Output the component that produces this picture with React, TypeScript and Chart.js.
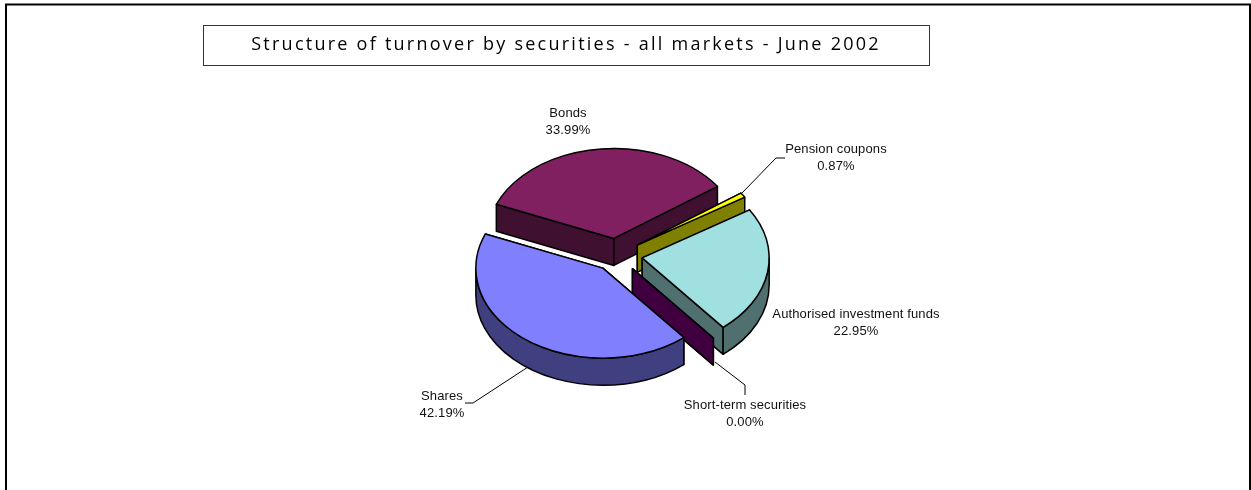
import React, { useEffect, useRef } from "react";
import { Chart, registerables } from "chart.js";

Chart.register(...registerables);

const categories = ["Bonds", "Pension coupons", "Authorised investment funds", "Short-term securities", "Shares"];
const shareValues = [33.99, 0.87, 22.95, 0.0, 42.19];
const topColors = ["#802060", "#FFFF00", "#A0E0E0", "#800080", "#8080FF"];
const sideColors = ["#401030", "#808000", "#507070", "#400040", "#404080"];
const titleText = "Structure of turnover by securities - all markets - June 2002";

const W = 1251;
const H = 490;
const TILT = 0.709;
const DEPTH = 27;
const explodeBy = [23.5, 25, 26, 25, 23];

// label centre x, first line centre y
const labelSpots: [number, number][] = [
  [568, 113],
  [836, 149],
  [856, 314],
  [745, 405],
  [442, 396],
];
const leaders: ([number, number][] | null)[] = [
  null,
  [[742, 193], [776, 158], [785, 158]],
  null,
  [[715, 362], [745, 385], [745, 395]],
  [[528, 367], [473, 403], [465, 403]],
];

const pie3d = {
  id: "pie3d",
  beforeDatasetsDraw(chart: any) {
    const ctx: CanvasRenderingContext2D = chart.ctx;
    const arcs = chart.getDatasetMeta(0).data;
    arcs.forEach((arc: any, i: number) => {
      const mid = (arc.startAngle + arc.endAngle) / 2;
      const off = arc.options.offset;
      const cx = arc.x + Math.cos(mid) * off;
      const cy = arc.y + Math.sin(mid) * off * TILT;
      const rx = arc.outerRadius;
      const ry = rx * TILT;
      const a0 = arc.startAngle;
      const a1 = arc.endAngle;
      const px = (a: number) => cx + Math.cos(a) * rx;
      const py = (a: number) => cy + Math.sin(a) * ry;

      ctx.save();
      ctx.lineWidth = 1.5;
      ctx.strokeStyle = "#000";
      ctx.lineJoin = "round";
      ctx.fillStyle = sideColors[i];

      // radial side faces
      for (const a of [a0, a1]) {
        ctx.beginPath();
        ctx.moveTo(cx, cy);
        ctx.lineTo(px(a), py(a));
        ctx.lineTo(px(a), py(a) + DEPTH);
        ctx.lineTo(cx, cy + DEPTH);
        ctx.closePath();
        ctx.fill();
        ctx.stroke();
      }

      // outer wall: the part of the rim on the front half of the ellipse
      const TAU = Math.PI * 2;
      for (let k = -1; k <= 1; k++) {
        const s = Math.max(a0, k * TAU);
        const e = Math.min(a1, k * TAU + Math.PI);
        if (e > s) {
          ctx.beginPath();
          ctx.ellipse(cx, cy, rx, ry, 0, s, e);
          ctx.ellipse(cx, cy + DEPTH, rx, ry, 0, e, s, true);
          ctx.closePath();
          ctx.fill();
          ctx.stroke();
        }
      }

      // top face
      if (a1 > a0) {
        ctx.fillStyle = arc.options.backgroundColor;
        ctx.beginPath();
        ctx.moveTo(cx, cy);
        ctx.ellipse(cx, cy, rx, ry, 0, a0, a1);
        ctx.closePath();
        ctx.fill();
        ctx.stroke();
      }
      ctx.restore();
    });
    return false;
  },
  afterDraw(chart: any) {
    const ctx: CanvasRenderingContext2D = chart.ctx;
    ctx.save();
    // outer frame (open at the bottom)
    ctx.strokeStyle = "#000";
    ctx.lineWidth = 2;
    ctx.beginPath();
    ctx.moveTo(6, H);
    ctx.lineTo(6, 4.5);
    ctx.lineTo(1250, 4.5);
    ctx.lineTo(1250, H);
    ctx.stroke();

    // title box
    ctx.lineWidth = 1;
    ctx.strokeStyle = "#333";
    ctx.strokeRect(203.5, 25.5, 726, 40);
    ctx.fillStyle = "#000";
    ctx.font = '18px "Open Sans"';
    (ctx as any).letterSpacing = "2.25px";
    ctx.textAlign = "center";
    ctx.textBaseline = "middle";
    ctx.fillText(titleText, 566, 45);
    (ctx as any).letterSpacing = "0px";

    // leaders
    ctx.lineWidth = 1;
    ctx.strokeStyle = "#000";
    leaders.forEach((pts) => {
      if (!pts) return;
      ctx.beginPath();
      pts.forEach(([x, y], j) => (j ? ctx.lineTo(x, y) : ctx.moveTo(x, y)));
      ctx.stroke();
    });

    // labels
    ctx.font = '13px "Liberation Sans"';
    (ctx as any).letterSpacing = "0.12px";
    ctx.fillStyle = "#111";
    categories.forEach((name, i) => {
      const [x, y] = labelSpots[i];
      ctx.fillText(name, x, y);
      ctx.fillText(shareValues[i].toFixed(2) + "%", x, y + 17);
    });
    ctx.restore();
  },
};

export default function App() {
  const ref = useRef<HTMLCanvasElement>(null);
  useEffect(() => {
    document.body.style.margin = "0";
    const chart = new Chart(ref.current!, {
      type: "pie",
      data: {
        labels: categories,
        datasets: [{ data: shareValues, backgroundColor: topColors, offset: explodeBy, borderWidth: 0 }],
      },
      options: {
        responsive: false,
        animation: false,
        rotation: 292.3,
        radius: 127,
        layout: { padding: { top: 20, right: 18 } },
        plugins: { legend: { display: false }, tooltip: { enabled: false } },
      },
      plugins: [pie3d],
    } as any);
    return () => chart.destroy();
  }, []);
  return <canvas ref={ref} width={W} height={H} style={{ display: "block" }} />;
}
